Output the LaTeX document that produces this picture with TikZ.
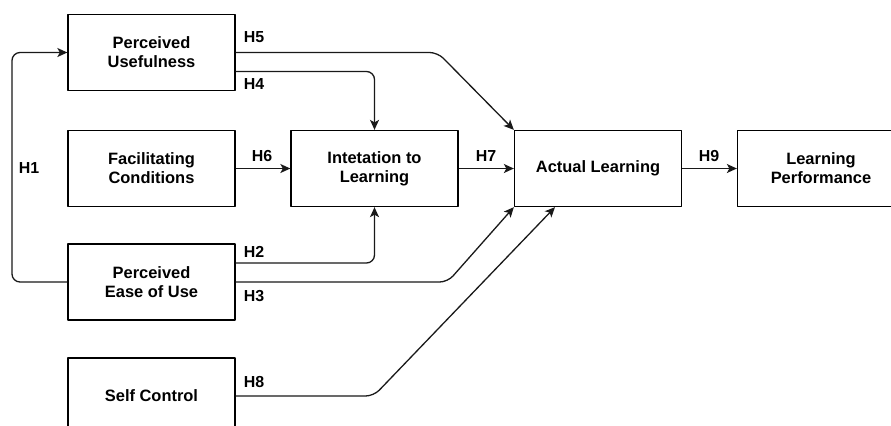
\documentclass[tikz,border=0pt]{standalone}
\usepackage{fontspec}
\setmainfont{Liberation Sans}
\usetikzlibrary{arrows.meta}

\begin{document}
\begin{tikzpicture}[x=1bp,y=-1bp,line join=round,
    box/.style={draw,line width=1.3bp,minimum width=167bp,minimum height=76bp,
      align=center,inner sep=0pt,font=\fontsize{16.5}{19}\selectfont\bfseries},
    hyp/.style={inner sep=0pt,font=\fontsize{16}{18}\selectfont\bfseries},
    link/.style={line width=1.3bp,rounded corners=8bp,
      -{Stealth[length=10bp,width=9bp,inset=2.5bp]}}]

    \colorlet{linecolor}{black!90}

    \useasboundingbox (0,0) rectangle (891,425);

    \node[box] (pu) at (151.5,52.5) {Perceived\\Usefulness};
    \node[box] (fc) at (151.5,168.5) {Facilitating\\Conditions};
    \node[box] (il) at (374.5,168.5) {Intetation to\\Learning};
    \node[box] (pe) at (151.5,282) {Perceived\\Ease of Use};
    \node[box] (sc) at (151.5,396) {Self Control};
    \node[box] (al) at (598,168.5) {Actual Learning};
    \node[box] (lp) at (821,168.5) {Learning\\Performance};

    \coordinate (left) at (12,0);

    % H1 loops round the left side
    \draw[link,linecolor] (pe.west) -- (pe.west -| left) -- (pu.west -| left) -- (pu.west);

    \draw[link,linecolor] (pu.east) -- ++(202,0) -- (al.north west);
    \draw[link,linecolor] ([yshift=-19bp]pu.east) -| (il.north);
    \draw[link,linecolor] (fc) -- (il);
    \draw[link,linecolor] (il) -- (al);
    \draw[link,linecolor] (al) -- (lp);
    \draw[link,linecolor] ([yshift=19bp]pe.east) -| (il.south);
    \draw[link,linecolor] (pe.east) -- ++(212,0) -- (al.south west);
    \draw[link,linecolor] (sc.east) -- ++(138,0) -- ([xshift=-43bp]al.south);

    \node[hyp] (h1) at (29,168) {H1};
    \node[hyp] (h2) at (254,252) {H2};
    \node[hyp] (h3) at (254,296) {H3};
    \node[hyp] (h4) at (254,84) {H4};
    \node[hyp] (h5) at (254,37) {H5};
    \node[hyp] (h6) at (262,156) {H6};
    \node[hyp] (h7) at (486,156) {H7};
    \node[hyp] (h8) at (254,382) {H8};
    \node[hyp] (h9) at (709,156) {H9};

\end{tikzpicture}
\end{document}
